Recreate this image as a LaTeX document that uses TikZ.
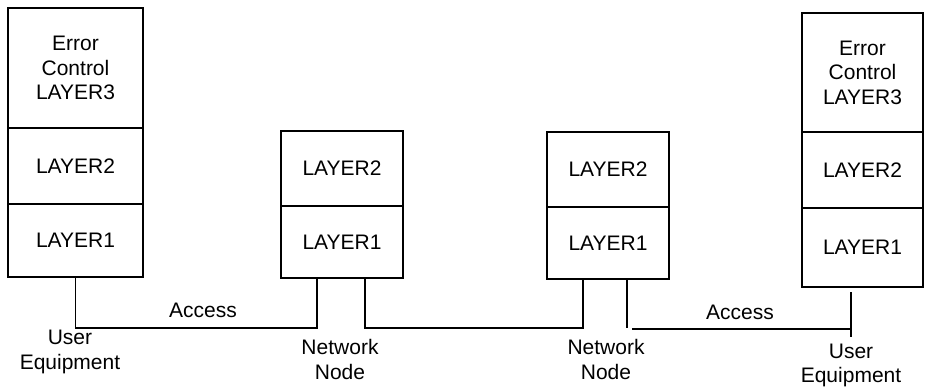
\documentclass[tikz,border=0pt]{standalone}
\usepackage{fontspec}
\setmainfont{Liberation Sans}
\begin{document}
\begin{tikzpicture}[x=1pt,y=-1pt,
  cell/.style={draw, line width=1.3pt, rectangle, inner sep=0pt, align=center,
    font=\fontsize{21}{24.5}\selectfont},
  lbl/.style={inner sep=0pt, align=center, font=\fontsize{21}{24.5}\selectfont},
  wire/.style={line width=1.3pt}]
\useasboundingbox (0,0) rectangle (925,388);
% left user equipment
\node[cell, minimum width=135pt, minimum height=120pt] (ua3) at (75.5,68) {Error\\Control\\LAYER3};
\node[cell, minimum width=135pt, minimum height=76pt] (ua2) at (75.5,166) {LAYER2};
\node[cell, minimum width=135pt, minimum height=73pt] (ua1) at (75.5,240.5) {LAYER1};
% network node 1
\node[cell, minimum width=122pt, minimum height=75pt] (na2) at (342,168.5) {LAYER2};
\node[cell, minimum width=122pt, minimum height=72pt] (na1) at (342,242) {LAYER1};
% network node 2
\node[cell, minimum width=122pt, minimum height=75pt] (nb2) at (608,169.5) {LAYER2};
\node[cell, minimum width=122pt, minimum height=72pt] (nb1) at (608,243) {LAYER1};
% right user equipment
\node[cell, minimum width=121pt, minimum height=119pt] (ub3) at (862.5,72.5) {Error\\Control\\LAYER3};
\node[cell, minimum width=121pt, minimum height=76pt] (ub2) at (862.5,170) {LAYER2};
\node[cell, minimum width=121pt, minimum height=79pt] (ub1) at (862.5,247.5) {LAYER1};
% connectors
\coordinate (j1) at (317,328);
\coordinate (j2) at (365,328);
\coordinate (j3) at (583,328);
\coordinate (j4) at (627,328);
\coordinate (j5) at (632,329);
\coordinate (j6) at (851,329);
\coordinate (j7) at (851,292);
\coordinate (j8) at (851,337);
\draw[wire] (ua1.south) |- (j1) -- (j1 |- na1.south);
\draw[wire] (j2 |- na1.south) -- (j2) -- (j3) -- (j3 |- nb1.south);
\draw[wire] (j4 |- nb1.south) -- (j4);
\draw[wire] (j5) -- (j6);
\draw[wire] (j7) -- (j8);
% labels
\node[lbl] (acc1) at (203,310) {Access};
\node[lbl] (acc2) at (740,312) {Access};
\node[lbl] (ue1) at (70,352) {User\\Equipment};
\node[lbl] (nn1) at (340,359.5) {Network\\Node};
\node[lbl] (nn2) at (606,359.5) {Network\\Node};
\node[lbl] (ue2) at (851,365.5) {User\\Equipment};
\end{tikzpicture}
\end{document}
